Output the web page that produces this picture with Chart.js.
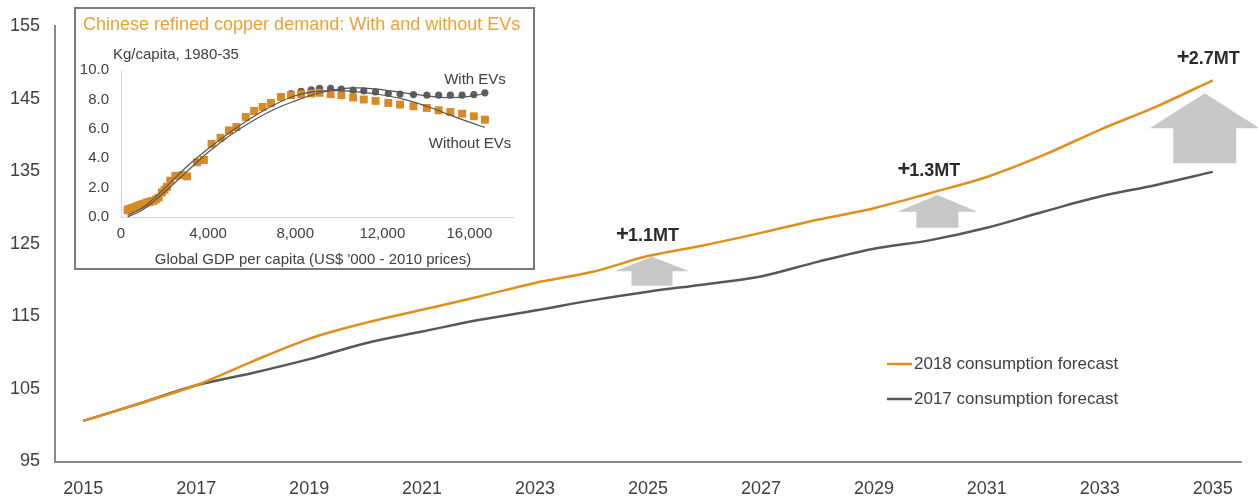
<!DOCTYPE html>
<html><head><meta charset="utf-8">
<script src="https://cdn.jsdelivr.net/npm/chart.js@4.4.0/dist/chart.umd.min.js"></script>
<style>
html,body{margin:0;padding:0;background:#fff;}
#wrap{position:relative;width:1258px;height:497px;overflow:hidden;}
#main{position:absolute;left:0;top:0;}
#insetBox{position:absolute;left:74px;top:7px;width:461px;height:263px;border:2px solid #7a7a7a;box-sizing:border-box;background:#fff;}
#inset{display:block;}
</style></head>
<body>
<div id="wrap">
<canvas id="main" width="1258" height="497"></canvas>
<div id="insetBox"><canvas id="inset" width="457" height="259"></canvas></div>
</div>
<script>
// ---------- Main chart data ----------
const years = ['2015','2016','2017','2018','2019','2020','2021','2022','2023','2024','2025',
               '2026','2027','2028','2029','2030','2031','2032','2033','2034','2035'];
const forecast2018 = [100.6,103.0,105.5,108.8,111.9,114.1,115.9,117.7,119.6,121.1,123.3,
                      124.8,126.5,128.3,129.9,132.0,134.2,137.2,140.7,143.9,147.5];
const forecast2017 = [100.6,103.0,105.5,107.2,109.1,111.3,112.9,114.5,115.8,117.2,118.4,
                      119.4,120.5,122.5,124.3,125.5,127.2,129.4,131.5,133.1,134.9];
const seriesNames = ['2018 consumption forecast','2017 consumption forecast'];
const yMin = 95, yMax = 155, yStep = 10;
const upliftYears = ['2025','2030','2035'];
const upliftLabels = ['1.1MT','1.3MT','2.7MT'];

// ---------- Inset chart data ----------
const gdpPerCapita = [300,340,400,480,560,647,760,878,1000,1100,1187,1300,1400,1494,1600,1725,1878,2000,2110,2264,
  2495,2803,3034,3496,3804,4158,4574,4958,5298,5729,6112,6500,6884,7346,7808,8270,8732,9116,9624,10118,
  10658,11148,11689,12275,12813,13430,14045,14585,15123,15662,16202,16710];
const withoutEVs = [0.45,0.53,0.5,0.6,0.62,0.68,0.75,0.82,0.88,0.92,0.98,1.02,1.08,1.1,1.2,1.32,1.67,1.85,2.05,2.47,
  2.8,2.85,2.76,3.72,3.88,4.98,5.39,5.89,6.12,6.8,7.21,7.49,7.76,8.17,8.29,8.36,8.4,8.45,8.36,8.29,
  8.13,7.99,7.9,7.76,7.65,7.53,7.42,7.26,7.14,7.03,6.85,6.62];
const withEVs = [0.45,0.53,0.5,0.6,0.62,0.68,0.75,0.82,0.88,0.92,0.98,1.02,1.08,1.1,1.2,1.32,1.67,1.85,2.05,2.47,
  2.8,2.85,2.76,3.72,3.88,4.98,5.39,5.89,6.12,6.8,7.21,7.49,7.76,8.17,8.4,8.55,8.65,8.75,8.75,8.7,
  8.63,8.58,8.51,8.4,8.36,8.33,8.29,8.29,8.29,8.29,8.33,8.45];
const fitX = [300,1000,2000,3000,4000,5000,6000,7000,8000,9000,10000,11000,12000,13000,14000,15000,16000,16700];
const fitWithout = [0.1,0.65,1.95,3.4,4.64,5.75,6.75,7.6,8.25,8.55,8.6,8.5,8.3,8.0,7.55,7.0,6.45,6.1];
const fitWith = [0.0,0.5,1.7,3.05,4.4,5.55,6.5,7.3,7.9,8.4,8.7,8.78,8.65,8.45,8.25,8.12,8.2,8.4];
const insetXTicks = [0,4000,8000,12000,16000];
const insetYTicks = [0,2,4,6,8,10];
const insetTitle = 'Chinese refined copper demand: With and without EVs';
const insetUnit = 'Kg/capita, 1980-35';
const insetXTitle = "Global GDP per capita (US$ '000 - 2010 prices)";
const insetSeriesNames = ['With EVs','Without EVs'];

const FONT = "'Liberation Sans', Arial, Helvetica, sans-serif";
Chart.defaults.font.family = FONT;
Chart.defaults.color = '#404040';

const ORANGE = '#E0901A';
const GREY = '#585858';

// ---------- plugins for main chart ----------
const arrowSpecs = [
  {dx: 4,  top: 123.2, neck: 121.2, bottom: 119.2, head: 75,  shaft: 41, labelDx: 0,  labelY: 126.1},
  {dx: 7,  top: 131.7, neck: 129.4, bottom: 127.2, head: 80,  shaft: 42, labelDx: -1, labelY: 135.0},
  {dx: -8, top: 145.75, neck: 140.9, bottom: 136.1, head: 110, shaft: 63, labelDx: -4, labelY: 150.4}
];
const upliftPlugin = {
  id: 'uplift',
  beforeDatasetsDraw(chart) {
    const {ctx, scales: {x, y}} = chart;
    ctx.save();
    ctx.fillStyle = '#C8C8C8';
    upliftYears.forEach((yr, i) => {
      const a = arrowSpecs[i];
      const cx = x.getPixelForValue(years.indexOf(yr)) + a.dx;
      const yt = y.getPixelForValue(a.top), yn = y.getPixelForValue(a.neck), yb = y.getPixelForValue(a.bottom);
      ctx.beginPath();
      ctx.moveTo(cx, yt);
      ctx.lineTo(cx + a.head / 2, yn);
      ctx.lineTo(cx + a.shaft / 2, yn);
      ctx.lineTo(cx + a.shaft / 2, yb);
      ctx.lineTo(cx - a.shaft / 2, yb);
      ctx.lineTo(cx - a.shaft / 2, yn);
      ctx.lineTo(cx - a.head / 2, yn);
      ctx.closePath();
      ctx.fill();
    });
    ctx.restore();
  },
  afterDatasetsDraw(chart) {
    const {ctx, scales: {x, y}} = chart;
    ctx.save();
    ctx.fillStyle = '#2b2b2b';
    ctx.textAlign = 'left';
    ctx.textBaseline = 'middle';
    const plusFont = 'bold 22px ' + FONT, textFont = 'bold 18px ' + FONT;
    upliftYears.forEach((yr, i) => {
      const a = arrowSpecs[i];
      const cx = x.getPixelForValue(years.indexOf(yr)) + a.labelDx;
      const cy = y.getPixelForValue(a.labelY);
      ctx.font = plusFont;
      const wp = ctx.measureText('+').width;
      ctx.font = textFont;
      const wt = ctx.measureText(upliftLabels[i]).width;
      const x0 = cx - (wp + wt) / 2;
      ctx.font = plusFont;
      ctx.fillText('+', x0, cy - 1);
      ctx.font = textFont;
      ctx.fillText(upliftLabels[i], x0 + wp - 1, cy);
    });
    ctx.restore();
  }
};
const legendPlugin = {
  id: 'customLegend',
  afterDraw(chart) {
    const {ctx} = chart;
    ctx.save();
    chart.data.datasets.forEach((ds, i) => {
      const yy = 364 + i * 35;
      ctx.strokeStyle = ds.borderColor;
      ctx.lineWidth = 2.5;
      ctx.beginPath();
      ctx.moveTo(887, yy);
      ctx.lineTo(912, yy);
      ctx.stroke();
      ctx.fillStyle = '#404040';
      ctx.font = '17px ' + FONT;
      ctx.textAlign = 'left';
      ctx.textBaseline = 'middle';
      ctx.fillText(ds.label, 914, yy);
    });
    ctx.restore();
  }
};

new Chart(document.getElementById('main'), {
  type: 'line',
  data: {
    labels: years,
    datasets: [
      {label: seriesNames[0], data: forecast2018, borderColor: ORANGE, borderWidth: 2.5, pointRadius: 0, tension: 0.3, cubicInterpolationMode: 'monotone'},
      {label: seriesNames[1], data: forecast2017, borderColor: GREY, borderWidth: 2.5, pointRadius: 0, tension: 0.3, cubicInterpolationMode: 'monotone'}
    ]
  },
  options: {
    responsive: false,
    animation: false,
    devicePixelRatio: 1,
    layout: {padding: {top: 26, right: 17, left: 0, bottom: 0}},
    plugins: {legend: {display: false}, tooltip: {enabled: false}},
    scales: {
      x: {
        offset: true,
        grid: {display: false, drawTicks: false},
        border: {display: true, color: '#8a8a8a', width: 2},
        ticks: {
          autoSkip: false, maxRotation: 0, padding: 17, color: '#404040', font: {size: 18},
          callback: function (v, i) { return i % 2 === 0 ? this.getLabelForValue(v) : ''; }
        },
        afterFit: s => { s.height = 35.5; }
      },
      y: {
        min: yMin, max: yMax,
        grid: {display: false, drawTicks: false},
        border: {display: true, color: '#8a8a8a', width: 2},
        ticks: {stepSize: yStep, padding: 15, color: '#404040', font: {size: 18}},
        afterFit: s => { s.width = 55; }
      }
    }
  },
  plugins: [upliftPlugin, legendPlugin]
});

// ---------- inset chart ----------
const insetTextPlugin = {
  id: 'insetText',
  afterDraw(chart) {
    const {ctx} = chart;
    ctx.save();
    ctx.textBaseline = 'middle';
    ctx.textAlign = 'left';
    ctx.fillStyle = '#EEA035';
    ctx.font = '18px ' + FONT;
    ctx.fillText(insetTitle, 7, 16);
    ctx.fillStyle = '#404040';
    ctx.font = '15px ' + FONT;
    ctx.fillText(insetUnit, 37, 46);
    ctx.textAlign = 'center';
    ctx.fillText(insetSeriesNames[0], 399, 71);
    ctx.fillText(insetSeriesNames[1], 394, 135);
    ctx.textBaseline = 'alphabetic';
    ctx.fillText(insetXTitle, 237, 255);
    ctx.restore();
  }
};
const pts = (xs, ys) => xs.map((v, i) => ({x: v, y: ys[i]}));

new Chart(document.getElementById('inset'), {
  type: 'scatter',
  data: {
    datasets: [
      {type: 'line', data: pts(fitX, fitWith), borderColor: '#555555', borderWidth: 1.2, pointRadius: 0, tension: 0.4, order: 0},
      {type: 'line', data: pts(fitX, fitWithout), borderColor: '#555555', borderWidth: 1.2, pointRadius: 0, tension: 0.4, order: 0},
      {label: insetSeriesNames[1], data: pts(gdpPerCapita, withoutEVs), pointStyle: 'rect', pointRadius: 5.6, backgroundColor: '#D98A22', borderWidth: 0, order: 1},
      {label: insetSeriesNames[0], data: pts(gdpPerCapita, withEVs), pointStyle: 'circle', pointRadius: 3.6, backgroundColor: '#5E5E5E', borderWidth: 0, order: 2}
    ]
  },
  options: {
    responsive: false,
    animation: false,
    devicePixelRatio: 1,
    layout: {padding: {top: 61, right: 20, left: 0, bottom: 0}},
    plugins: {legend: {display: false}, tooltip: {enabled: false}},
    scales: {
      x: {
        type: 'linear', min: 0, max: 18000,
        grid: {display: false, drawTicks: false},
        border: {display: true, color: '#d4d4d4', width: 1},
        afterBuildTicks: s => { s.ticks = insetXTicks.map(v => ({value: v})); },
        ticks: {padding: 8, color: '#404040', font: {size: 15},
                callback: v => v.toLocaleString('en-US')},
        afterFit: s => { s.height = 51; }
      },
      y: {
        min: 0, max: 10,
        grid: {display: false, drawTicks: false},
        border: {display: true, color: '#d4d4d4', width: 1},
        afterBuildTicks: s => { s.ticks = insetYTicks.map(v => ({value: v})); },
        ticks: {padding: 12, color: '#404040', font: {size: 15},
                callback: v => v.toFixed(1)},
        afterFit: s => { s.width = 45; }
      }
    }
  },
  plugins: [insetTextPlugin]
});
</script>
</body></html>
